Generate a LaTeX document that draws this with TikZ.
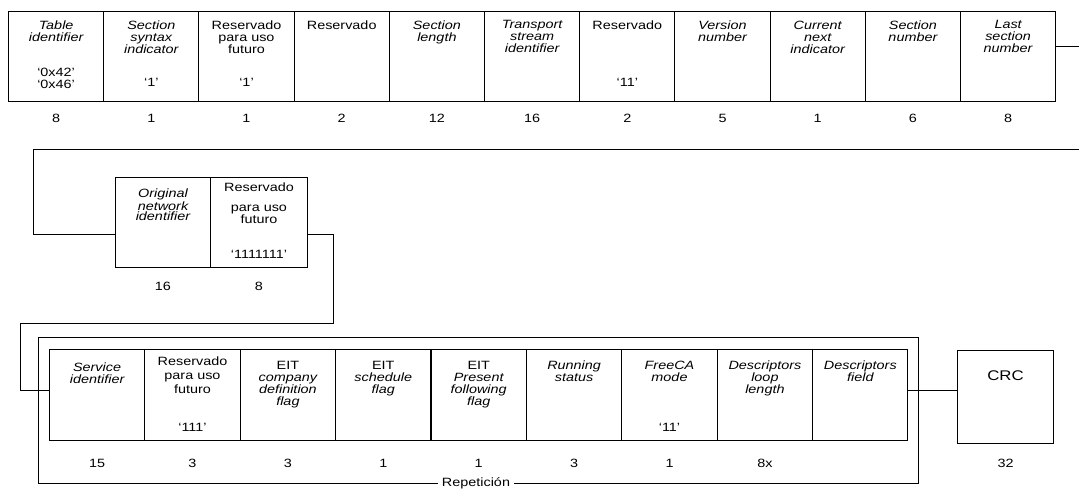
\documentclass[tikz,border=0pt]{standalone}
\usepackage{fontspec}
\setmainfont{Liberation Sans}[FakeStretch=1.2]
\newcommand\lbfont{\fontsize{12}{12}\selectfont}
\begin{document}
\begin{tikzpicture}[x=1pt,y=-1pt,
  cell/.style={draw, line width=1pt, minimum width=95.2pt, minimum height=90pt, inner sep=0pt, anchor=north west},
  lbl/.style={anchor=north, align=center, inner sep=0pt, font=\lbfont},
  ilbl/.style={lbl, font=\lbfont\itshape},
  val/.style={inner sep=0pt, align=center, font=\lbfont},
  bits/.style={inner sep=0pt, font=\lbfont},
  conn/.style={line width=1pt},
  frame/.style={draw, line width=1pt}]
\fill[white] (0,0) rectangle (1079,490);
\useasboundingbox (0,0) rectangle (1079,490);

% ---------- top row ----------
\node[cell] (t1)  at (8,11) {};
\node[cell] (t2)  at (103.2,11) {};
\node[cell] (t3)  at (198.4,11) {};
\node[cell] (t4)  at (293.6,11) {};
\node[cell] (t5)  at (388.8,11) {};
\node[cell] (t6)  at (484,11) {};
\node[cell] (t7)  at (579.2,11) {};
\node[cell] (t8)  at (674.4,11) {};
\node[cell] (t9)  at (769.6,11) {};
\node[cell] (t10) at (864.8,11) {};
\node[cell] (t11) at (960,11) {};

\node[ilbl] (t1l)  at ([yshift=-9.5pt]t1.north)  {Table\\identifier};
\node[ilbl] (t2l)  at ([yshift=-9.5pt]t2.north)  {Section\\syntax\\indicator};
\node[lbl]  (t3l)  at ([yshift=-9.5pt]t3.north)  {Reservado\\para uso\\futuro};
\node[lbl]  (t4l)  at ([yshift=-9.5pt]t4.north)  {Reservado};
\node[ilbl] (t5l)  at ([yshift=-9.5pt]t5.north)  {Section\\length};
\node[ilbl] (t6l)  at ([yshift=-9.5pt]t6.north)  {Transport\\stream\\identifier};
\node[lbl]  (t7l)  at ([yshift=-9.5pt]t7.north)  {Reservado};
\node[ilbl] (t8l)  at ([yshift=-9.5pt]t8.north)  {Version\\number};
\node[ilbl] (t9l)  at ([yshift=-9.5pt]t9.north)  {Current\\next\\indicator};
\node[ilbl] (t10l) at ([yshift=-9.5pt]t10.north) {Section\\number};
\node[ilbl] (t11l) at ([yshift=-9.5pt]t11.north) {Last\\section\\number};

\node[val] (t1v) at ([yshift=24pt]t1.south) {`0x42'\\`0x46'};
\node[val] (t2v) at ([yshift=20pt]t2.south) {`1'};
\node[val] (t3v) at ([yshift=20pt]t3.south) {`1'};
\node[val] (t7v) at ([yshift=20pt]t7.south) {`11'};

\node[bits] (t1n)  at ([yshift=-16pt]t1.south)  {8};
\node[bits] (t2n)  at ([yshift=-16pt]t2.south)  {1};
\node[bits] (t3n)  at ([yshift=-16pt]t3.south)  {1};
\node[bits] (t4n)  at ([yshift=-16pt]t4.south)  {2};
\node[bits] (t5n)  at ([yshift=-16pt]t5.south)  {12};
\node[bits] (t6n)  at ([yshift=-16pt]t6.south)  {16};
\node[bits] (t7n)  at ([yshift=-16pt]t7.south)  {2};
\node[bits] (t8n)  at ([yshift=-16pt]t8.south)  {5};
\node[bits] (t9n)  at ([yshift=-16pt]t9.south)  {1};
\node[bits] (t10n) at ([yshift=-16pt]t10.south) {6};
\node[bits] (t11n) at ([yshift=-16pt]t11.south) {8};

% ---------- middle row ----------
\node[cell, minimum width=95pt] (o1) at (115,177) {};
\node[cell, minimum width=97pt] (o2) at (210,177) {};
\node[ilbl, font=\fontsize{12}{10.5}\selectfont\itshape] (o1l) at ([yshift=-12pt]o1.north) {Original\\network\\identifier};
\node[lbl] (o2l) at ([yshift=-6pt]o2.north) {Reservado\\[8pt]para uso\\futuro};
\node[val] (o2v) at ([yshift=14pt]o2.south) {`1111111'};
\node[bits] (o1n) at ([yshift=-18pt]o1.south) {16};
\node[bits] (o2n) at ([yshift=-18pt]o2.south) {8};

% ---------- bottom row (repetition) ----------
\draw[frame] (38,337) rectangle (918,483);
\node[fill=white, inner sep=4pt, font=\lbfont] (rep) at (476,483) {Repetición};

\node[cell, minimum height=91pt] (s1) at (49,349) {};
\node[cell, minimum height=91pt] (s2) at (144.4,349) {};
\node[cell, minimum height=91pt] (s3) at (239.8,349) {};
\node[cell, minimum height=91pt] (s4) at (335.2,349) {};
\node[cell, minimum height=91pt] (s5) at (430.6,349) {};
\node[cell, minimum height=91pt] (s6) at (526,349) {};
\node[cell, minimum height=91pt] (s7) at (621.4,349) {};
\node[cell, minimum height=91pt] (s8) at (716.8,349) {};
\node[cell, minimum height=91pt] (s9) at (812.2,349) {};

\node[ilbl] (s1l) at ([yshift=-14pt]s1.north) {Service\\identifier};
\node[lbl, font=\fontsize{12}{14}\selectfont] (s2l) at ([yshift=-8pt]s2.north) {Reservado\\para uso\\futuro};
\node[lbl] (s3l) at ([yshift=-12pt]s3.north) {EIT\\\itshape company\\\itshape definition\\\itshape flag};
\node[lbl] (s4l) at ([yshift=-12pt]s4.north) {EIT\\\itshape schedule\\\itshape flag};
\node[lbl] (s5l) at ([yshift=-12pt]s5.north) {EIT\\\itshape Present\\\itshape following\\\itshape flag};
\node[ilbl] (s6l) at ([yshift=-12pt]s6.north) {Running\\status};
\node[ilbl] (s7l) at ([yshift=-12pt]s7.north) {FreeCA\\mode};
\node[ilbl] (s8l) at ([yshift=-12pt]s8.north) {Descriptors\\loop\\length};
\node[ilbl] (s9l) at ([yshift=-12pt]s9.north) {Descriptors\\field};

\node[val] (s2v) at ([yshift=14pt]s2.south) {`111'};
\node[val] (s7v) at ([yshift=14pt]s7.south) {`11'};

\node[bits] (s1n) at ([yshift=-22pt]s1.south) {15};
\node[bits] (s2n) at ([yshift=-22pt]s2.south) {3};
\node[bits] (s3n) at ([yshift=-22pt]s3.south) {3};
\node[bits] (s4n) at ([yshift=-22pt]s4.south) {1};
\node[bits] (s5n) at ([yshift=-22pt]s5.south) {1};
\node[bits] (s6n) at ([yshift=-22pt]s6.south) {3};
\node[bits] (s7n) at ([yshift=-22pt]s7.south) {1};
\node[bits] (s8n) at ([yshift=-22pt]s8.south) {8x};

% ---------- CRC ----------
\node[cell, minimum width=96pt, minimum height=93pt] (crc) at (957,350) {};
\node[lbl, font=\fontsize{14}{14}\selectfont] (crcl) at ([yshift=-21pt]crc.north) {CRC};
\node[bits] (crcn) at ([yshift=-19pt]crc.south) {32};

% ---------- connectors ----------
\coordinate (r1) at (0,46);
\coordinate (r2) at (0,234);
\coordinate (r3) at (0,390);
\coordinate (b1) at (1092,46);
\coordinate (b2) at (33,149);
\coordinate (b3) at (333,234);
\coordinate (b4) at (20,323);
\draw[conn] (t11.east |- r1) -- (b1) |- (b2) |- (o1.west |- r2);
\draw[conn] (o2.east |- r2) -- (b3) |- (b4) |- (s1.west |- r3);
\draw[conn] (s9.east |- r3) -- (crc.west |- r3);
\end{tikzpicture}
\end{document}
